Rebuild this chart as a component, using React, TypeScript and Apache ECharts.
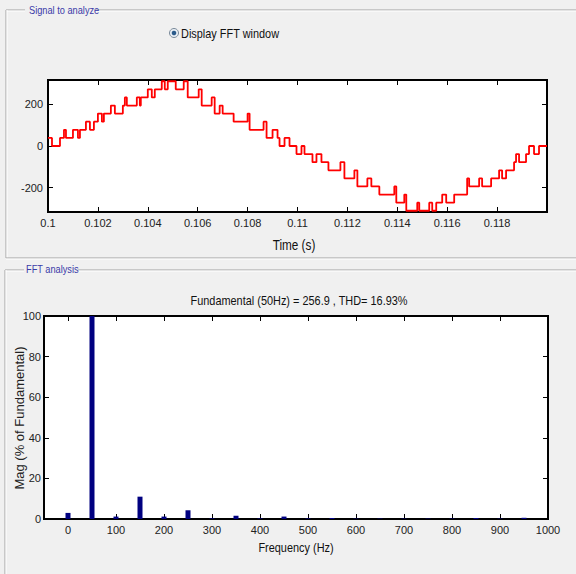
import React, { useEffect, useRef } from "react";
import * as echarts from "echarts";

// Signal to analyze: staircase voltage (start time of each step, level)
const signalTimes = [
  0.1, 0.10016, 0.10048, 0.10064, 0.10072, 0.101, 0.1012, 0.10128, 0.10152, 0.10168,
  0.10184, 0.102, 0.10216, 0.10224, 0.10252, 0.10268, 0.103, 0.10308, 0.10316, 0.10356,
  0.10368, 0.10372, 0.104, 0.10416, 0.10428, 0.10456, 0.10468, 0.1048, 0.10512, 0.10544,
  0.1056, 0.10604, 0.10616, 0.10656, 0.10668, 0.10688, 0.107, 0.10744, 0.108, 0.10808,
  0.10864, 0.10876, 0.109, 0.1092, 0.10928, 0.10948, 0.10968, 0.10996, 0.11016, 0.11028,
  0.1106, 0.11076, 0.11096, 0.11124, 0.11172, 0.11188, 0.11228, 0.1124, 0.1128, 0.11296,
  0.11328, 0.11388, 0.11396, 0.11428, 0.11436, 0.1148, 0.11488, 0.11528, 0.1154, 0.11556,
  0.1158, 0.11596, 0.11628, 0.1168, 0.11688, 0.11728, 0.1174, 0.11776, 0.11808, 0.1182,
  0.11836, 0.11868, 0.11876, 0.11888, 0.11916, 0.11928, 0.11948, 0.11968, 0.12,
];
const signalValues = [
  39, 0, 39, 78, 39, 78, 39, 78, 117, 78,
  117, 156, 117, 156, 195, 156, 195, 234, 195, 234,
  195, 234, 273, 234, 273, 312, 273, 312, 273, 312,
  234, 273, 195, 234, 156, 195, 156, 117, 156, 78,
  117, 39, 78, 39, 0, 39, 0, -39, 0, -39,
  -78, -39, -78, -117, -78, -156, -117, -195, -156, -195,
  -234, -195, -273, -234, -312, -273, -312, -273, -312, -273,
  -234, -273, -234, -156, -195, -156, -195, -156, -117, -156,
  -117, -78, -39, -78, -39, 0, -39, 0, 0,
];
const timeTicks = [0.1, 0.102, 0.104, 0.106, 0.108, 0.11, 0.112, 0.114, 0.116, 0.118];
const voltTicks = [-200, 0, 200];

// FFT analysis
const harmonicFreqs = [0, 50, 100, 150, 200, 250, 300, 350, 400, 450, 500, 550, 600, 650, 700, 750, 800, 850, 900, 950];
const harmonicMags = [3, 100, 1.2, 11, 1.2, 4.3, 0.3, 1.6, 0.3, 1.2, 0.3, 0.5, 0.2, 0.2, 0.2, 0.2, 0.2, 0.5, 0.2, 0.6];
const freqTicks = [0, 100, 200, 300, 400, 500, 600, 700, 800, 900, 1000];
const magTicks = [0, 20, 40, 60, 80, 100];

const REG = "'Liberation Sans', Arial, sans-serif";
const TITLE_BLUE = "#3a3aa8";
const NARROW_SCALE = 0.84;

export default function App() {
  const ref = useRef<HTMLDivElement>(null);
  useEffect(() => {
    if (!ref.current) return;
    const chart = echarts.init(ref.current, undefined, { renderer: "svg" });

    const tickStyle = { inside: true, length: 5, lineStyle: { color: "#000", width: 1 } };
    const labelStyle = { color: "#222", fontSize: 11, fontFamily: REG };
    const noLine = { show: false, onZero: false };

    const frameLine = (x1: number, y1: number, x2: number, y2: number) => [
      { type: "line", shape: { x1, y1, x2, y2 }, style: { stroke: "#a0a0a0", lineWidth: 1 } },
      {
        type: "line",
        shape: { x1: x1 + (x1 === x2 ? 1 : 0), y1: y1 + (y1 === y2 ? 1 : 0), x2: x2 + (x1 === x2 ? 1 : 0), y2: y2 + (y1 === y2 ? 1 : 0) },
        style: { stroke: "#ffffff", lineWidth: 1 },
      },
    ];

    const txt = (x: number, y: number, text: string, size: number, fill: string, align: string, extra: any = {}) => ({
      type: "text", x, y, scaleX: NARROW_SCALE, ...extra,
      style: { text, fill, fontSize: size, fontFamily: REG, align, verticalAlign: "middle" },
    });

    const option: any = {
      animation: false,
      backgroundColor: "#f0f0f0",
      grid: [
        { left: 48, top: 80, width: 499, height: 132, show: true, backgroundColor: "#fff", borderColor: "#000", borderWidth: 2 },
        { left: 44, top: 316, width: 504, height: 203, show: true, backgroundColor: "#fff", borderColor: "#000", borderWidth: 2 },
      ],
      xAxis: [
        {
          type: "value", gridIndex: 0, min: 0.1, max: 0.12, position: "bottom",
          axisLine: noLine, splitLine: { show: false },
          axisTick: { ...tickStyle, customValues: timeTicks },
          axisLabel: { ...labelStyle, margin: 5, customValues: timeTicks, formatter: (v: number) => String(+v.toFixed(3)) },
        },
        {
          type: "value", gridIndex: 0, min: 0.1, max: 0.12, position: "top",
          axisLine: noLine, splitLine: { show: false },
          axisTick: { ...tickStyle, customValues: timeTicks }, axisLabel: { show: false },
        },
        {
          type: "value", gridIndex: 1, min: -50, max: 1000, position: "bottom",
          axisLine: noLine, splitLine: { show: false },
          axisTick: { ...tickStyle, customValues: freqTicks },
          axisLabel: { ...labelStyle, margin: 5, customValues: freqTicks, formatter: (v: number) => String(v) },
        },
        {
          type: "value", gridIndex: 1, min: -50, max: 1000, position: "top",
          axisLine: noLine, splitLine: { show: false },
          axisTick: { ...tickStyle, customValues: freqTicks }, axisLabel: { show: false },
        },
      ],
      yAxis: [
        {
          type: "value", gridIndex: 0, min: -318, max: 318, position: "left",
          axisLine: noLine, splitLine: { show: false },
          axisTick: { ...tickStyle, customValues: voltTicks },
          axisLabel: { ...labelStyle, margin: 5, customValues: voltTicks, formatter: (v: number) => String(v) },
        },
        {
          type: "value", gridIndex: 0, min: -318, max: 318, position: "right",
          axisLine: noLine, splitLine: { show: false },
          axisTick: { ...tickStyle, customValues: voltTicks }, axisLabel: { show: false },
        },
        {
          type: "value", gridIndex: 1, min: 0, max: 100, position: "left",
          axisLine: noLine, splitLine: { show: false },
          axisTick: { ...tickStyle, customValues: magTicks },
          axisLabel: { ...labelStyle, margin: 3, customValues: magTicks, formatter: (v: number) => String(v) },
        },
        {
          type: "value", gridIndex: 1, min: 0, max: 100, position: "right",
          axisLine: noLine, splitLine: { show: false },
          axisTick: { ...tickStyle, customValues: magTicks }, axisLabel: { show: false },
        },
      ],
      series: [
        {
          type: "line", xAxisIndex: 0, yAxisIndex: 0, step: "end", showSymbol: false,
          data: signalTimes.map((t, i) => [t, signalValues[i]]),
          lineStyle: { color: "#ff0000", width: 1.8 }, clip: true, silent: true,
        },
        {
          type: "bar", xAxisIndex: 2, yAxisIndex: 2, barWidth: 5,
          data: harmonicFreqs.map((f, i) => [f, harmonicMags[i]]),
          itemStyle: { color: "#000080" }, silent: true,
        },
      ],
      graphic: [
        // Signal to analyze group box
        ...frameLine(6, 10, 25, 10),
        ...frameLine(96, 10, 576, 10),
        ...frameLine(6, 10, 6, 258),
        ...frameLine(6, 258, 576, 258),
        txt(29, 10, "Signal to analyze", 11, TITLE_BLUE, "left"),
        // radio button
        { type: "circle", shape: { cx: 174, cy: 33, r: 4.5 }, style: { fill: "#e8eef4", stroke: "#7a8a9a", lineWidth: 1 } },
        { type: "circle", shape: { cx: 174, cy: 33, r: 2.3 }, style: { fill: "#2a5a8a" } },
        txt(181, 34, "Display FFT window", 13, "#111", "left"),
        txt(294, 245, "Time (s)", 14, "#111", "center"),
        // FFT analysis group box
        ...frameLine(5, 270, 24, 270),
        ...frameLine(78, 270, 576, 270),
        ...frameLine(5, 270, 5, 574),
        txt(26, 269, "FFT analysis", 11, TITLE_BLUE, "left"),
        txt(299, 301, "Fundamental (50Hz) = 256.9 , THD= 16.93%", 13, "#111", "center"),
        txt(296, 548, "Frequency (Hz)", 13, "#111", "center"),
        {
          type: "text", x: 19, y: 418, rotation: Math.PI / 2,
          style: { text: "Mag (% of Fundamental)", fill: "#222", fontSize: 13, fontFamily: REG, align: "center", verticalAlign: "middle" },
        },
      ],
    };
    chart.setOption(option);
    return () => chart.dispose();
  }, []);

  return (
    <div style={{ position: "fixed", left: 0, top: 0, width: 576, height: 574, background: "#f0f0f0" }}>
      <div ref={ref} style={{ width: 576, height: 574 }} />
    </div>
  );
}
